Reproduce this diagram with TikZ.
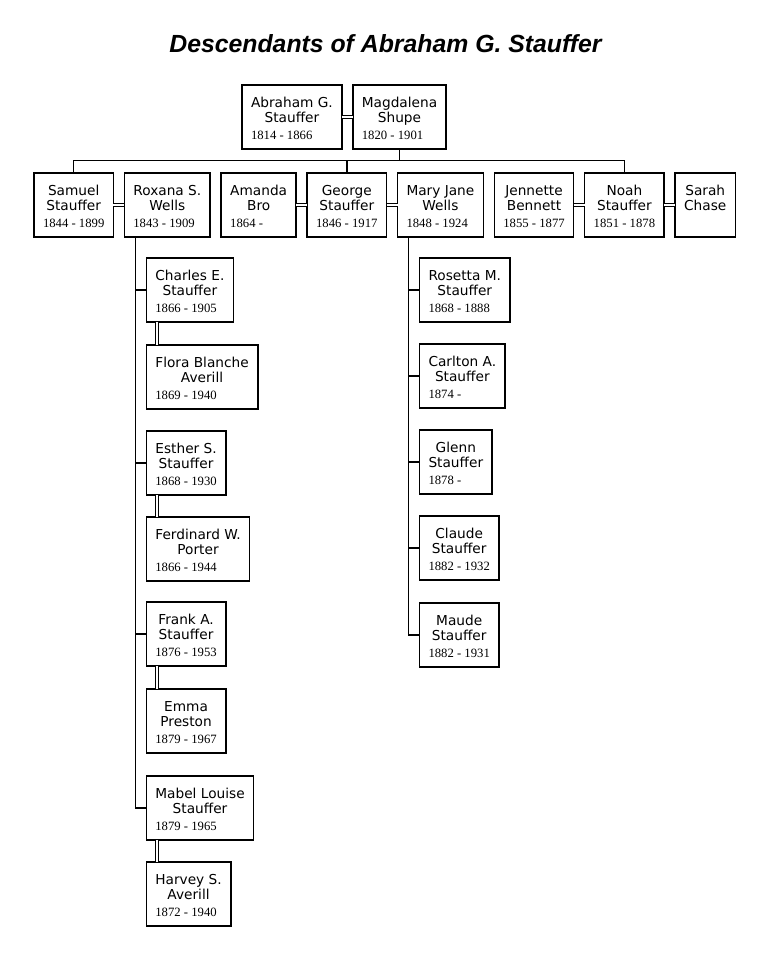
\documentclass[tikz,border=0pt]{standalone}
\usepackage{fontspec}
\usepackage{array}
\usetikzlibrary{positioning}
\newfontfamily\namefont{DejaVu Sans}
\newfontfamily\datefont{Liberation Serif}
\newfontfamily\titlefont{Liberation Sans}
% 人物框内容: 两行姓名 + 生卒年
\newcommand{\who}[3]{%
  \begin{tabular}{@{}c@{}}
    \rule{0pt}{22pt}#1\\
    #2\\
    \multicolumn{1}{@{}l@{}}{\datefont\fontsize{12.7pt}{15pt}\selectfont\rule[-10pt]{0pt}{22.5pt}#3}
  \end{tabular}}

\begin{document}
\begin{tikzpicture}[x=1pt, y=-1pt, line width=1.5pt]
        % 定义样式
        \tikzstyle{person} = [draw, rectangle, inner xsep=9pt, inner ysep=0pt, outer sep=0pt, minimum height=64pt, font={\namefont\fontsize{13.7pt}{15pt}\selectfont}]
        \tikzstyle{wed} = [double, double distance=2pt, line width=1.1pt]
        \useasboundingbox (0,0) rectangle (769,961);

        % 标题
        \node[anchor=base, font={\titlefont\bfseries\itshape\fontsize{24.8pt}{28pt}\selectfont}] (title) at (385.5,52) {Descendants of Abraham G. Stauffer};

        % 第一代
        \node[person, anchor=north west] (abraham) at (242,85) {\who{Abraham G.}{Stauffer}{1814 - 1866}};
        \node[person, right=11pt of abraham] (magdalena) {\who{Magdalena}{Shupe}{1820 - 1901}};

        % 第二代
        \node[person, anchor=north west] (samuel) at (34,173) {\who{Samuel}{Stauffer}{1844 - 1899}};
        \node[person, right=11pt of samuel] (roxana) {\who{Roxana S.}{Wells}{1843 - 1909}};
        \node[person, right=11pt of roxana] (amanda) {\who{Amanda}{Bro}{1864 -}};
        \node[person, right=11pt of amanda] (george) {\who{George}{Stauffer}{1846 - 1917}};
        \node[person, right=11pt of george] (maryjane) {\who{Mary Jane}{Wells}{1848 - 1924}};
        \node[person, right=11pt of maryjane] (jennette) {\who{Jennette}{Bennett}{1855 - 1877}};
        \node[person, right=11pt of jennette] (noah) {\who{Noah}{Stauffer}{1851 - 1878}};
        \node[person, right=11pt of noah] (sarah) {\who{Sarah}{Chase}{}};

        % Samuel + Roxana 的子女
        \node[person, below right=21pt and 22pt of roxana.south west] (charles) {\who{Charles E.}{Stauffer}{1866 - 1905}};
        \node[person, below right=23pt and 0pt of charles.south west] (flora) {\who{Flora Blanche}{Averill}{1869 - 1940}};
        \node[person, below right=22pt and 0pt of flora.south west] (esther) {\who{Esther S.}{Stauffer}{1868 - 1930}};
        \node[person, below right=22pt and 0pt of esther.south west] (ferdinard) {\who{Ferdinard W.}{Porter}{1866 - 1944}};
        \node[person, below right=21pt and 0pt of ferdinard.south west] (frank) {\who{Frank A.}{Stauffer}{1876 - 1953}};
        \node[person, below right=23pt and 0pt of frank.south west] (emma) {\who{Emma}{Preston}{1879 - 1967}};
        \node[person, below right=23pt and 0pt of emma.south west] (mabel) {\who{Mabel Louise}{Stauffer}{1879 - 1965}};
        \node[person, below right=22pt and 0pt of mabel.south west] (harvey) {\who{Harvey S.}{Averill}{1872 - 1940}};

        % George + Mary Jane 的子女
        \node[person, below right=21pt and 22pt of maryjane.south west] (rosetta) {\who{Rosetta M.}{Stauffer}{1868 - 1888}};
        \node[person, below right=22pt and 0pt of rosetta.south west] (carlton) {\who{Carlton A.}{Stauffer}{1874 -}};
        \node[person, below right=22pt and 0pt of carlton.south west] (glenn) {\who{Glenn}{Stauffer}{1878 -}};
        \node[person, below right=22pt and 0pt of glenn.south west] (claude) {\who{Claude}{Stauffer}{1882 - 1932}};
        \node[person, below right=23pt and 0pt of claude.south west] (maude) {\who{Maude}{Stauffer}{1882 - 1931}};

        % 婚姻连线
        \draw[wed] (abraham) -- (magdalena);
        \draw[wed] (samuel) -- (roxana);
        \draw[wed] (amanda) -- (george);
        \draw[wed] (george) -- (maryjane);
        \draw[wed] (jennette) -- (noah);
        \draw[wed] (noah) -- (sarah);
        \foreach \a/\b in {charles/flora, esther/ferdinard, frank/emma, mabel/harvey}
            \draw[wed] ([xshift=10.5pt]\a.south west) -- ([xshift=10.5pt]\b.north west);

        % 亲子连线
        \coordinate (bar) at ([yshift=-11.5pt]magdalena.south);
        \draw (magdalena.south) -- (bar);
        \draw (samuel.north) |- (noah.north |- bar) -- (noah.north);
        \draw (george.north |- bar) -- (george.north);

        \coordinate (rtop) at ([xshift=-11pt]charles.west |- roxana.south);
        \draw (rtop) |- (mabel.west);
        \foreach \k in {charles, esther, frank}
            \draw (rtop |- \k.west) -- (\k.west);

        \coordinate (mtop) at ([xshift=-11pt]rosetta.west |- maryjane.south);
        \draw (mtop) |- (maude.west);
        \foreach \k in {rosetta, carlton, glenn, claude}
            \draw (mtop |- \k.west) -- (\k.west);
    \end{tikzpicture}
\end{document}
